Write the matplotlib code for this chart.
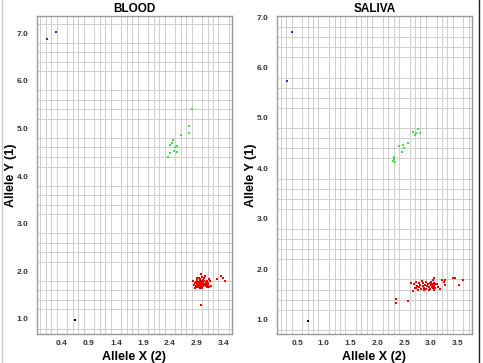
import matplotlib
matplotlib.use("Agg")
import matplotlib.pyplot as plt
from matplotlib.ticker import MultipleLocator, FixedLocator
from matplotlib.lines import Line2D

plt.rcParams['font.family'] = ['Liberation Sans', 'DejaVu Sans']

# ---- BLOOD ----
blood_blue_x = [0.13, 0.28]
blood_blue_y = [6.87, 7.02]
blood_black_x = [0.64]
blood_black_y = [0.97]
blood_green_x = [2.81, 2.75, 2.76, 2.60, 2.46, 2.44, 2.40, 2.54, 2.50, 2.47, 2.41, 2.54, 2.37]
blood_green_y = [5.41, 5.05, 4.91, 4.87, 4.76, 4.70, 4.66, 4.64, 4.61, 4.52, 4.49, 4.50, 4.39]
blood_red_x = [2.83, 2.85, 2.86, 2.88, 2.88, 2.90, 2.90, 2.91, 2.92, 2.92, 2.93, 2.93, 2.94, 2.94,
               2.95, 2.95, 2.96, 2.96, 2.97, 2.97, 2.98, 2.98, 2.99, 2.99, 3.00, 3.00, 3.01, 3.01,
               3.02, 3.02, 3.03, 3.03, 3.04, 3.05, 3.05, 3.06, 3.07, 3.08, 3.09, 3.10, 3.11, 3.12,
               3.13, 3.15, 3.17, 3.28, 3.34, 3.38, 3.42, 2.97, 2.87, 2.95, 3.00, 3.06, 2.91]
blood_red_y = [1.80, 1.72, 1.76, 1.70, 1.78, 1.74, 1.68, 1.82, 1.72, 1.77, 1.70, 1.85, 1.75, 1.68,
               1.79, 1.73, 1.71, 1.83, 1.76, 1.94, 1.70, 1.80, 1.74, 1.67, 1.77, 1.88, 1.72, 1.82,
               1.75, 1.69, 1.79, 1.86, 1.73, 1.71, 1.90, 1.77, 1.74, 1.80, 1.68, 1.76, 1.72, 1.83,
               1.67, 1.80, 1.69, 1.84, 1.90, 1.85, 1.80, 1.29, 1.66, 1.66, 1.65, 1.69, 1.86]
blood_xticks = [0.4, 0.9, 1.4, 1.9, 2.4, 2.9, 3.4]
blood_yticks = [1.0, 2.0, 3.0, 4.0, 5.0, 6.0, 7.0]

# ---- SALIVA ----
saliva_blue_x = [0.40, 0.31]
saliva_blue_y = [6.70, 5.74]
saliva_black_x = [0.71]
saliva_black_y = [0.98]
saliva_green_x = [2.75, 2.80, 2.67, 2.69, 2.71, 2.56, 2.48, 2.40, 2.49, 2.45, 2.31, 2.31, 2.33, 2.29]
saliva_green_y = [4.79, 4.71, 4.72, 4.67, 4.70, 4.51, 4.47, 4.44, 4.40, 4.32, 4.23, 4.18, 4.12, 4.15]
saliva_red_x = [2.34, 2.34, 2.57, 2.63, 2.66, 2.68, 2.70, 2.72, 2.74, 2.75, 2.77, 2.78, 2.80, 2.81,
                2.82, 2.84, 2.85, 2.87, 2.88, 2.90, 2.91, 2.92, 2.94, 2.95, 2.97, 2.98, 3.00, 3.01,
                3.02, 3.03, 3.03, 3.04, 3.04, 3.05, 3.05, 3.06, 3.06, 3.07, 3.08, 3.10, 3.12, 3.17,
                3.20, 3.23, 3.26, 3.26, 3.41, 3.44, 3.52, 3.60, 2.72, 2.86, 2.96, 3.00, 3.05]
saliva_red_y = [1.41, 1.34, 1.38, 1.73, 1.58, 1.72, 1.63, 1.76, 1.68, 1.60, 1.74, 1.66, 1.70, 1.62,
                1.77, 1.67, 1.73, 1.64, 1.70, 1.76, 1.62, 1.68, 1.72, 1.65, 1.74, 1.61, 1.69, 1.66,
                1.72, 1.63, 1.78, 1.67, 1.70, 1.60, 1.74, 1.65, 1.69, 1.72, 1.63, 1.71, 1.66, 1.61,
                1.78, 1.75, 1.78, 1.70, 1.83, 1.83, 1.69, 1.78, 1.64, 1.60, 1.59, 1.76, 1.82]
saliva_xticks = [0.5, 1.0, 1.5, 2.0, 2.5, 3.0, 3.5]
saliva_yticks = [1.0, 2.0, 3.0, 4.0, 5.0, 6.0, 7.0]

fig = plt.figure(figsize=(4.83, 3.63), dpi=100)
ax1 = fig.add_axes([0.0766, 0.0799, 0.4037, 0.876])
ax2 = fig.add_axes([0.5735, 0.0799, 0.4037, 0.876])


def panel(ax, title, xlim, ylim, xticks, yticks, blue, black, green, red):
    ax.set_xlim(*xlim)
    ax.set_ylim(*ylim)
    ax.xaxis.set_major_locator(FixedLocator(xticks))
    ax.yaxis.set_major_locator(FixedLocator(yticks))
    ax.set_xticklabels(["%.1f" % v for v in xticks])
    ax.set_yticklabels(["%.1f" % v for v in yticks])
    ax.xaxis.set_minor_locator(MultipleLocator(0.1))
    ax.yaxis.set_minor_locator(MultipleLocator(0.2))
    ax.grid(True, which='minor', color='#cfcfcf', lw=0.7)
    ax.set_axisbelow(True)
    ax.tick_params(which='both', length=0)
    ax.tick_params(axis='x', pad=4, labelsize=6, labelcolor='#333333')
    ax.tick_params(axis='y', pad=6, labelsize=6, labelcolor='#333333')
    for lab in ax.get_xticklabels() + ax.get_yticklabels():
        lab.set_fontweight('bold')
    for s in ax.spines.values():
        s.set_color('#9a9a9a')
        s.set_linewidth(1.0)
    ax.set_title(title, fontsize=8.5, fontweight='bold', pad=3)
    ax.set_xlabel("Allele X (2)", fontsize=9, fontweight='bold', labelpad=3)
    ax.set_ylabel("Allele Y (1)", fontsize=9, fontweight='bold')
    ax.yaxis.set_label_coords(-0.105, 0.5)
    ax.plot(blue[0], blue[1], 's', color='#2a2acc', ms=1.8, mew=0)
    ax.plot(black[0], black[1], 's', color='#000000', ms=1.8, mew=0)
    ax.plot(green[0], green[1], 's', color='#44dd44', ms=1.8, mew=0)
    ax.plot(red[0], red[1], 's', color='#ee0000', ms=1.8, mew=0)


panel(ax1, "BLOOD", (-0.063, 3.55), (0.685, 7.36), blood_xticks, blood_yticks,
      (blood_blue_x, blood_blue_y), (blood_black_x, blood_black_y),
      (blood_green_x, blood_green_y), (blood_red_x, blood_red_y))
panel(ax2, "SALIVA", (0.127, 3.76), (0.72, 7.02), saliva_xticks, saliva_yticks,
      (saliva_blue_x, saliva_blue_y), (saliva_black_x, saliva_black_y),
      (saliva_green_x, saliva_green_y), (saliva_red_x, saliva_red_y))

# frame lines at the image edges
fig.add_artist(Line2D([0.004, 0.004], [0, 1], color='#c8c8c8', lw=1, transform=fig.transFigure))
fig.add_artist(Line2D([0.992, 0.992], [0, 1], color='#222222', lw=1, transform=fig.transFigure))

fig.savefig("out.png", dpi=100)
